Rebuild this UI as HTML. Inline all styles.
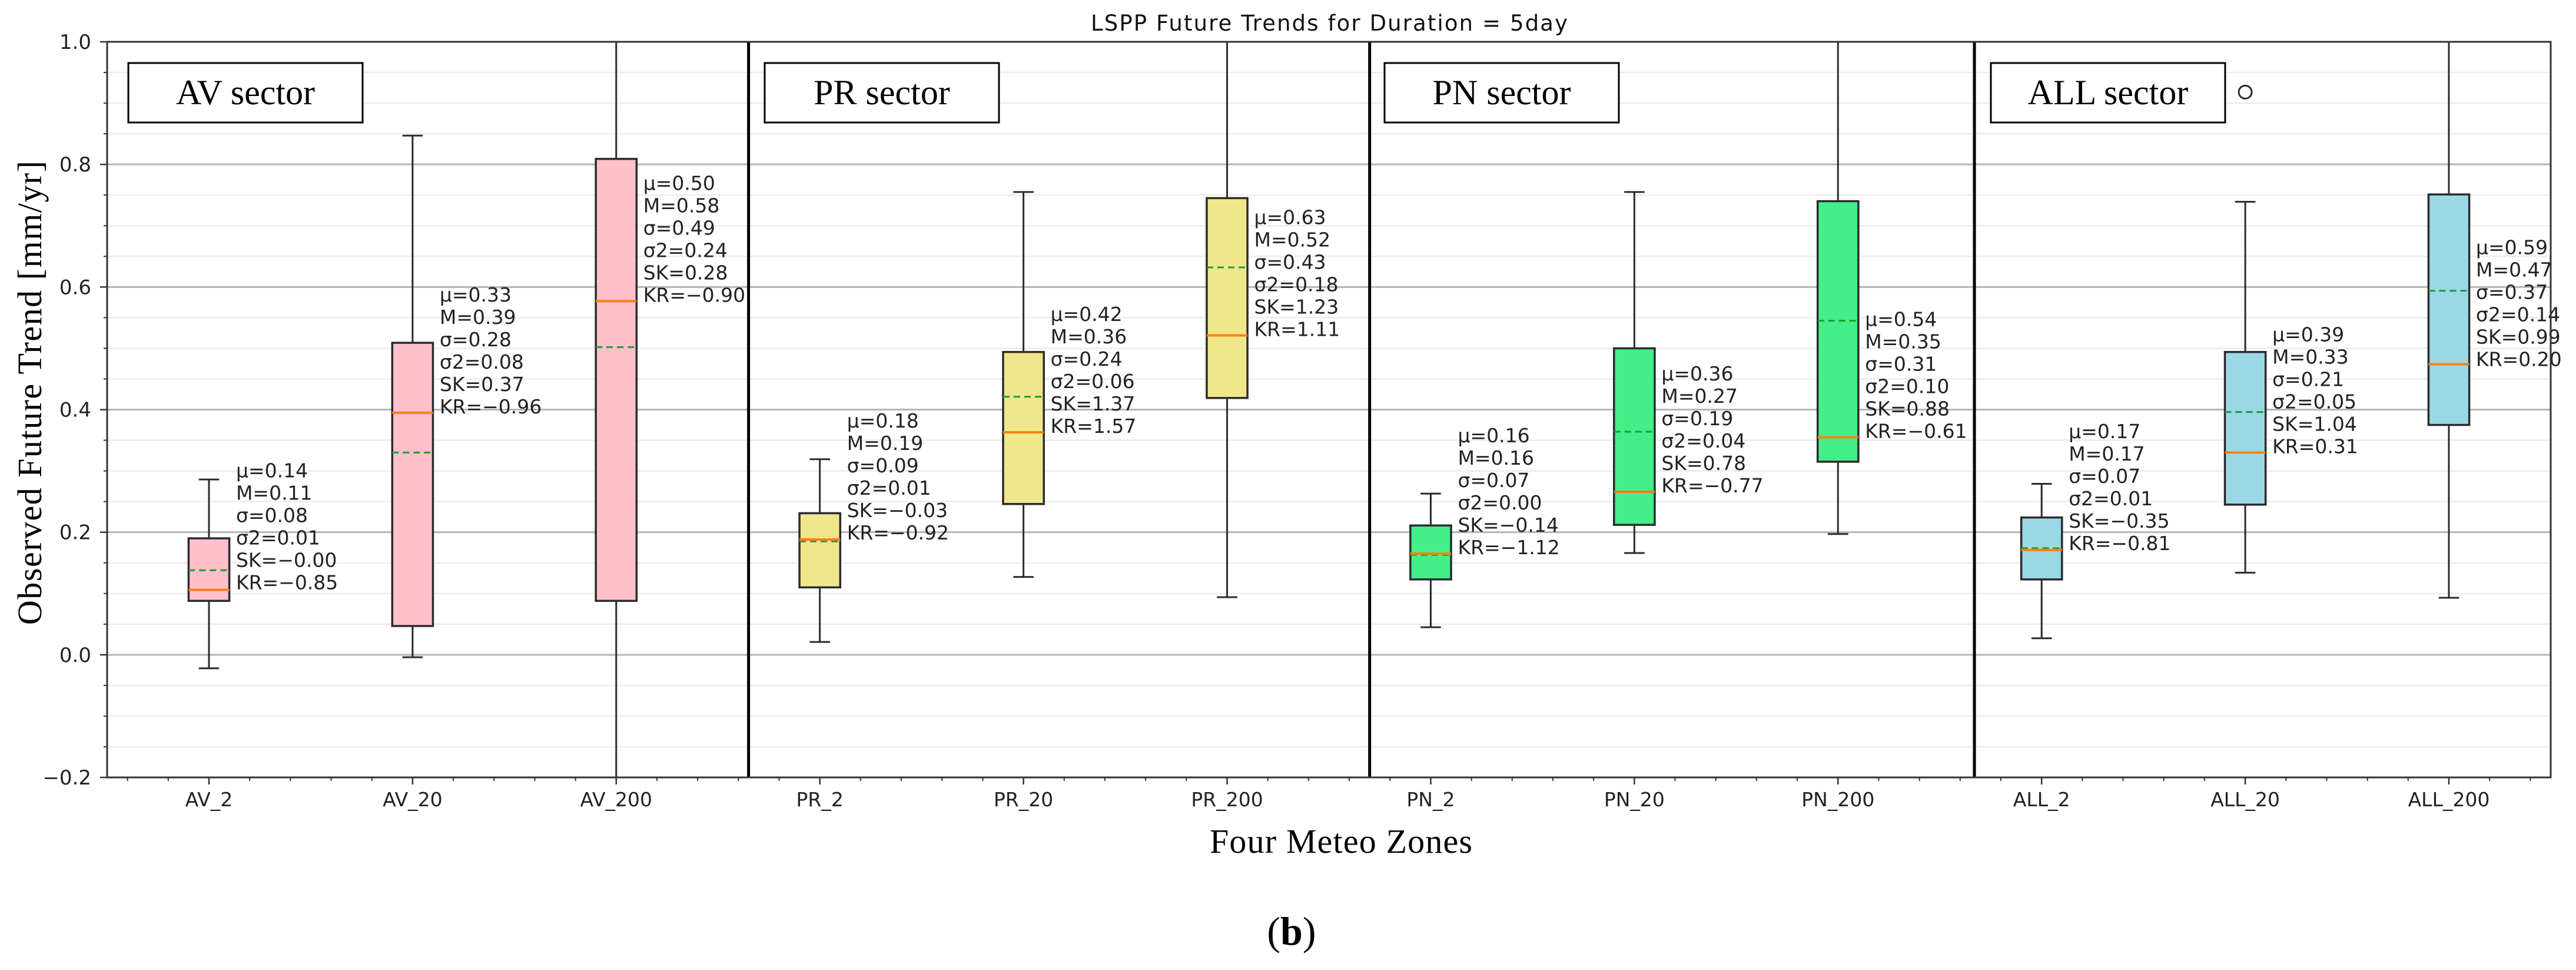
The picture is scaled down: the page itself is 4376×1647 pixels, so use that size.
<!DOCTYPE html>
<html><head><meta charset="utf-8"><style>
html,body{margin:0;padding:0;background:#fff;}
svg{display:block;}
</style></head><body>
<svg id="chart" width="4376" height="1647" viewBox="0 0 4376 1647" xmlns="http://www.w3.org/2000/svg">
<defs><clipPath id="plotclip"><rect x="182" y="71" width="4151" height="1249"/></clipPath></defs>
<rect x="0" y="0" width="4376" height="1647" fill="#fff"/>
<g id="grid"></g>
<g id="marks" clip-path="url(#plotclip)"></g>
<g id="labels"></g>
<g id="axes"></g>
<text x="2258" y="52" text-anchor="middle" font-family="'DejaVu Sans',sans-serif" font-size="37" fill="#111" textLength="810">LSPP Future Trends for Duration = 5day</text>
<text transform="translate(70,667) rotate(-90)" text-anchor="middle" font-family="'Liberation Serif',serif" font-size="58" fill="#000" textLength="788">Observed Future Trend [mm/yr]</text>
<text x="2278" y="1448" text-anchor="middle" font-family="'Liberation Serif',serif" font-size="58" fill="#000" textLength="446">Four Meteo Zones</text>
<text x="2194" y="1604" text-anchor="middle" font-family="'Liberation Serif',serif" font-size="68" fill="#000">(<tspan font-weight="bold">b</tspan>)</text>
</svg>
<script>
const categories = ["AV_2","AV_20","AV_200","PR_2","PR_20","PR_200","PN_2","PN_20","PN_200","ALL_2","ALL_20","ALL_200"];
const whiskerLow = [-0.022,-0.004,-0.35, 0.021,0.127,0.094, 0.045,0.166,0.197, 0.027,0.134,0.093];
const q1Values   = [0.088,0.047,0.088, 0.110,0.246,0.419, 0.123,0.212,0.315, 0.123,0.245,0.375];
const medians    = [0.106,0.395,0.577, 0.188,0.363,0.521, 0.165,0.266,0.355, 0.171,0.330,0.474];
const means      = [0.138,0.330,0.502, 0.185,0.421,0.632, 0.163,0.364,0.545, 0.174,0.396,0.594];
const q3Values   = [0.190,0.509,0.809, 0.231,0.494,0.745, 0.211,0.500,0.740, 0.224,0.494,0.751];
const whiskerHigh= [0.286,0.847,1.15, 0.319,0.755,1.15, 0.263,0.755,1.15, 0.279,0.739,1.15];
const outlierCats = [10];
const outlierValues = [0.918];
const statLabels = [
 ["μ=0.14","M=0.11","σ=0.08","σ2=0.01","SK=−0.00","KR=−0.85"],
 ["μ=0.33","M=0.39","σ=0.28","σ2=0.08","SK=0.37","KR=−0.96"],
 ["μ=0.50","M=0.58","σ=0.49","σ2=0.24","SK=0.28","KR=−0.90"],
 ["μ=0.18","M=0.19","σ=0.09","σ2=0.01","SK=−0.03","KR=−0.92"],
 ["μ=0.42","M=0.36","σ=0.24","σ2=0.06","SK=1.37","KR=1.57"],
 ["μ=0.63","M=0.52","σ=0.43","σ2=0.18","SK=1.23","KR=1.11"],
 ["μ=0.16","M=0.16","σ=0.07","σ2=0.00","SK=−0.14","KR=−1.12"],
 ["μ=0.36","M=0.27","σ=0.19","σ2=0.04","SK=0.78","KR=−0.77"],
 ["μ=0.54","M=0.35","σ=0.31","σ2=0.10","SK=0.88","KR=−0.61"],
 ["μ=0.17","M=0.17","σ=0.07","σ2=0.01","SK=−0.35","KR=−0.81"],
 ["μ=0.39","M=0.33","σ=0.21","σ2=0.05","SK=1.04","KR=0.31"],
 ["μ=0.59","M=0.47","σ=0.37","σ2=0.14","SK=0.99","KR=0.20"]
];
const statAnchor = [0.301,0.588,0.770, 0.382,0.556,0.714, 0.358,0.459,0.548, 0.365,0.523,0.665];
const sectorNames = ["AV sector","PR sector","PN sector","ALL sector"];
const sectorDividers = [2.65, 5.7, 8.67];
const yTicks = [-0.2,0.0,0.2,0.4,0.6,0.8,1.0];
const yTickLabels = ["−0.2","0.0","0.2","0.4","0.6","0.8","1.0"];

const NS="http://www.w3.org/2000/svg";
const L=182,R=4333,T=71,B=1320, X0=-0.5,X1=11.5,Y0=-0.2,Y1=1.0;
const xs=v=>L+(v-X0)/(X1-X0)*(R-L);
const ys=v=>B-(v-Y0)/(Y1-Y0)*(B-T);
const fills=["#ffc0cb","#f0e68c","#44ee88","#9ad8e6"];
function mk(tag,attrs,parent){const e=document.createElementNS(NS,tag);for(const k in attrs)e.setAttribute(k,attrs[k]);parent.appendChild(e);return e;}
const grid=document.getElementById('grid'),marks=document.getElementById('marks'),axes=document.getElementById('axes'),labels=document.getElementById('labels');

for(let i=0;i<=24;i++){const v=Y0+i*0.05;if(i%4===0)continue;
 const g=mk('line',{x1:L,x2:R,y1:ys(v),y2:ys(v),stroke:'#ececec','stroke-width':2.5},grid);
 
 
 mk('line',{x1:L-6,x2:L,y1:ys(v),y2:ys(v),stroke:'#333','stroke-width':2},axes);
}
yTicks.forEach((v,i)=>{
 const g=mk('line',{x1:L,x2:R,y1:ys(v),y2:ys(v),stroke:'#b4b4b4','stroke-width':3},grid);
 
 
 mk('line',{x1:L-12,x2:L,y1:ys(v),y2:ys(v),stroke:'#333','stroke-width':2.5},axes);
 const t=mk('text',{x:155,y:ys(v)+12,'text-anchor':'end','font-family':"'DejaVu Sans',sans-serif",'font-size':34,fill:'#222'},axes);
 t.textContent=yTickLabels[i];
 
 
});
sectorDividers.forEach(d=>{
 const l=mk('line',{x1:xs(d),x2:xs(d),y1:T,y2:B,stroke:'#000','stroke-width':5},marks);
 
 
});
categories.forEach((c,i)=>{
 const g=mk('g',{},marks);
 
 
 const cx=xs(i),hw=(xs(0.1)-xs(0)),cw=(xs(0.05)-xs(0));
 const col='#2b2b2b';
 mk('line',{x1:cx,x2:cx,y1:ys(whiskerHigh[i]),y2:ys(q3Values[i]),stroke:col,'stroke-width':3},g);
 mk('line',{x1:cx,x2:cx,y1:ys(q1Values[i]),y2:ys(whiskerLow[i]),stroke:col,'stroke-width':3},g);
 mk('line',{x1:cx-cw,x2:cx+cw,y1:ys(whiskerHigh[i]),y2:ys(whiskerHigh[i]),stroke:col,'stroke-width':3},g);
 mk('line',{x1:cx-cw,x2:cx+cw,y1:ys(whiskerLow[i]),y2:ys(whiskerLow[i]),stroke:col,'stroke-width':3},g);
 mk('rect',{x:cx-hw,y:ys(q3Values[i]),width:2*hw,height:ys(q1Values[i])-ys(q3Values[i]),fill:fills[Math.floor(i/3)],stroke:col,'stroke-width':3.5},g);
 mk('line',{x1:cx-hw,x2:cx+hw,y1:ys(means[i]),y2:ys(means[i]),stroke:'#1a9e2a','stroke-width':3,'stroke-dasharray':'11 7'},g);
 mk('line',{x1:cx-hw,x2:cx+hw,y1:ys(medians[i]),y2:ys(medians[i]),stroke:'#ff7f0e','stroke-width':4},g);
});
outlierCats.forEach((c,j)=>{
 const o=mk('circle',{cx:xs(c),cy:ys(outlierValues[j]),r:11,fill:'none',stroke:'#2b2b2b','stroke-width':3},marks);
 
 
});
categories.forEach((c,i)=>{
 const t=mk('text',{x:xs(i)+46,y:ys(statAnchor[i])+12,'font-family':"'DejaVu Sans',sans-serif",'font-size':33,fill:'#222'},labels);
 
 
 statLabels[i].forEach((s,k)=>{const ts=mk('tspan',{x:xs(i)+46,dy:k===0?0:38},t);ts.textContent=s;});
});
const sectorLeft=[218,1299,2352,3382];
sectorNames.forEach((n,i)=>{
 const g=mk('g',{},axes);
 
 
 mk('rect',{x:sectorLeft[i],y:107,width:398,height:101,fill:'#fff',stroke:'#000','stroke-width':3},g);
 const t=mk('text',{x:sectorLeft[i]+199,y:177,'text-anchor':'middle','font-family':"'Liberation Serif',serif",'font-size':60,fill:'#000'},g);
 t.textContent=n;
});
mk('rect',{x:L,y:T,width:R-L,height:B-T,fill:'none',stroke:'#333','stroke-width':3},axes);
for(let v=-0.4;v<=11.41;v+=0.2){
 const major=Math.abs(v-Math.round(v))<0.01;
 mk('line',{x1:xs(v),x2:xs(v),y1:B,y2:B+(major?12:6),stroke:'#333','stroke-width':major?2.5:2},axes);
}
categories.forEach((c,i)=>{
 const t=mk('text',{x:xs(i),y:1369,'text-anchor':'middle','font-family':"'DejaVu Sans',sans-serif",'font-size':33,fill:'#222'},axes);
 t.textContent=c;
 
 
});
</script>
</body></html>
